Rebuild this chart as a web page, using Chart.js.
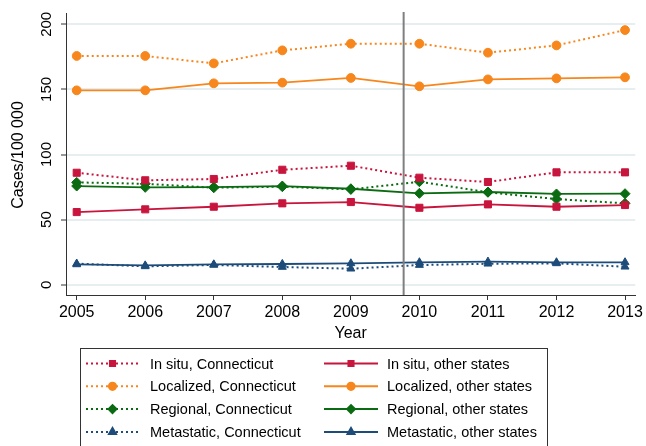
<!DOCTYPE html>
<html>
<head>
<meta charset="utf-8">
<script src="https://cdn.jsdelivr.net/npm/chart.js@4.4.0/dist/chart.umd.min.js"></script>
<style>
  html, body { margin: 0; padding: 0; background: #fff; }
</style>
</head>
<body>
<canvas id="chart" width="646" height="446"></canvas>
<script>
const years = [2005, 2006, 2007, 2008, 2009, 2010, 2011, 2012, 2013];
const yTicks = [0, 50, 100, 150, 200];
const cutoffYear = 2009.77;

const inSituCT = [86.0, 80.2, 81.2, 88.3, 91.4, 82.2, 78.9, 86.3, 86.3];
const inSituOther = [55.8, 57.9, 59.9, 62.5, 63.5, 59.1, 61.7, 59.9, 61.2];
const localizedCT = [175.7, 175.7, 170.0, 180.0, 185.1, 185.1, 178.2, 183.8, 195.6];
const localizedOther = [149.3, 149.3, 154.7, 155.2, 158.8, 152.4, 157.7, 158.5, 159.3];
const regionalCT = [78.6, 77.5, 74.5, 75.3, 73.2, 79.1, 71.0, 65.8, 62.5];
const regionalOther = [75.8, 74.8, 75.0, 75.8, 73.7, 70.2, 71.2, 69.7, 69.9];
const metastaticCT = [16.2, 14.1, 15.2, 13.6, 12.3, 15.1, 16.1, 16.4, 13.8];
const metastaticOther = [15.6, 14.8, 15.6, 15.9, 16.4, 17.2, 17.7, 17.2, 17.2];

const FONT = "'Liberation Sans', Arial, sans-serif";
const RED = "#c8153e";
const ORANGE = "#f7861d";
const GREEN = "#0b6b12";
const NAVY = "#1d4c7a";

// style per stage: colour + marker
const stages = [
  { name: "In situ", color: RED, style: "rect", r: 5, lr: 3.6, ct: inSituCT, other: inSituOther },
  { name: "Localized", color: ORANGE, style: "circle", r: 4.4, lr: 3.6, ct: localizedCT, other: localizedOther },
  { name: "Regional", color: GREEN, style: "rectRot", r: 5, lr: 4, ct: regionalCT, other: regionalOther },
  { name: "Metastatic", color: NAVY, style: "triangle", r: 4.6, lr: 4, ct: metastaticCT, other: metastaticOther },
];

function toPoints(arr) {
  return years.map((x, i) => ({ x: x, y: arr[i] }));
}

const datasets = [];
stages.forEach((s) => {
  datasets.push({
    label: s.name + ", Connecticut",
    data: toPoints(s.ct),
    borderColor: s.color,
    backgroundColor: s.color,
    borderWidth: 2,
    borderDash: [2, 3],
    pointStyle: s.style,
    pointRadius: s.r,
    pointBorderWidth: 1,
    pointBorderColor: s.color,
    pointBackgroundColor: s.color,
    tension: 0,
  });
  datasets.push({
    label: s.name + ", other states",
    data: toPoints(s.other),
    borderColor: s.color,
    backgroundColor: s.color,
    borderWidth: 1.8,
    pointStyle: s.style,
    pointRadius: s.r,
    pointBorderWidth: 1,
    pointBorderColor: s.color,
    pointBackgroundColor: s.color,
    tension: 0,
  });
});

// Stata-like extras: cutoff line, rotated y labels, titles, boxed legend
const decor = {
  id: "decor",
  afterDatasetsDraw(chart) {
    const { ctx, chartArea, scales } = chart;
    const x = scales.x.getPixelForValue(cutoffYear);
    ctx.save();
    ctx.strokeStyle = "#7f7f7f";
    ctx.lineWidth = 2;
    ctx.beginPath();
    ctx.moveTo(x, chartArea.top - 1);
    ctx.lineTo(x, chartArea.bottom);
    ctx.stroke();
    ctx.restore();
  },
  afterDraw(chart) {
    const { ctx, chartArea, scales } = chart;
    ctx.save();
    ctx.fillStyle = "#000";
    ctx.textAlign = "center";
    ctx.textBaseline = "middle";

    // y tick labels, rotated
    ctx.font = "15px " + FONT;
    yTicks.forEach((v) => {
      const y = scales.y.getPixelForValue(v);
      ctx.save();
      ctx.translate(47, y);
      ctx.rotate(-Math.PI / 2);
      ctx.fillText(String(v), 0, 0);
      ctx.restore();
    });

    // y title
    ctx.font = "16px " + FONT;
    ctx.save();
    ctx.translate(18.5, (chartArea.top + chartArea.bottom) / 2 + 1);
    ctx.rotate(-Math.PI / 2);
    ctx.fillText("Cases/100 000", 0, 0);
    ctx.restore();

    // x title
    ctx.fillText("Year", (chartArea.left + chartArea.right) / 2, 334);

    // legend box
    ctx.strokeStyle = "#333";
    ctx.lineWidth = 1;
    ctx.strokeRect(80.5, 348.5, 467, 120);

    ctx.font = "14.5px " + FONT;
    ctx.textAlign = "left";
    stages.forEach((s, i) => {
      const y = 363.5 + i * 22.8;
      [
        { x0: 86, x1: 139, tx: 150, dash: [2, 3], label: s.name + ", Connecticut" },
        { x0: 324, x1: 378, tx: 387, dash: [], label: s.name + ", other states" },
      ].forEach((c) => {
        ctx.strokeStyle = s.color;
        ctx.fillStyle = s.color;
        ctx.lineWidth = 2;
        ctx.setLineDash(c.dash);
        ctx.beginPath();
        ctx.moveTo(c.x0, y);
        ctx.lineTo(c.x1, y);
        ctx.stroke();
        ctx.setLineDash([]);
        Chart.helpers.drawPoint(ctx, { pointStyle: s.style, radius: s.lr, rotation: 0, borderWidth: 1 }, (c.x0 + c.x1) / 2, y);
        ctx.fillStyle = "#000";
        ctx.fillText(c.label, c.tx, y + 1);
      });
    });
    ctx.restore();
  },
};

new Chart(document.getElementById("chart"), {
  type: "line",
  data: { datasets: datasets },
  plugins: [decor],
  options: {
    responsive: false,
    animation: false,
    layout: { padding: { left: 0, top: 13, right: 10, bottom: 101 } },
    plugins: {
      legend: { display: false },
      tooltip: { enabled: false },
    },
    scales: {
      x: {
        type: "linear",
        min: 2004.844,
        max: 2013.15,
        afterBuildTicks: (scale) => {
          scale.ticks = years.map((v) => ({ value: v }));
        },
        afterFit: (scale) => {
          scale.height = 50;
        },
        ticks: {
          color: "#000",
          font: { family: FONT, size: 16 },
          padding: 3,
          maxRotation: 0,
          autoSkip: false,
          callback: (v) => String(v),
        },
        grid: {
          drawOnChartArea: false,
          tickLength: 5,
          tickColor: "#333",
        },
        border: { color: "#333", width: 1 },
      },
      y: {
        type: "linear",
        min: -7.9,
        max: 208.7,
        afterBuildTicks: (scale) => {
          scale.ticks = yTicks.map((v) => ({ value: v }));
        },
        afterFit: (scale) => {
          scale.width = 66;
        },
        ticks: { display: false },
        grid: {
          color: "#e6eef0",
          lineWidth: 2,
          tickLength: 5,
          tickColor: "#333",
          tickWidth: 1,
        },
        border: { color: "#333", width: 1 },
      },
    },
  },
});
</script>
</body>
</html>
